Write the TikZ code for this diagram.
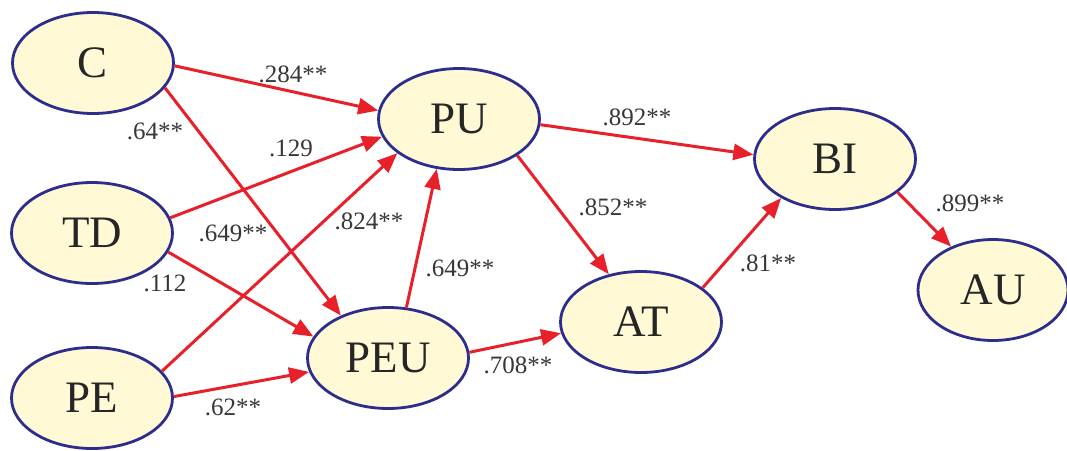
\documentclass[tikz,border=0pt]{standalone}
\usepackage{fontspec}
\setmainfont{Liberation Serif}
\usetikzlibrary{shapes.geometric,arrows.meta}
\definecolor{nodefill}{RGB}{255,249,214}
\definecolor{nodeline}{RGB}{45,45,140}
\definecolor{arrowred}{RGB}{232,32,42}
\definecolor{labelgray}{RGB}{55,55,55}
\tikzset{
  latent/.style={ellipse, draw=nodeline, fill=nodefill, line width=2.8pt,
    minimum width=161pt, minimum height=101pt, inner sep=0pt,
    font=\fontsize{45}{50}\selectfont, text=black!85},
  path/.style={draw=arrowred, line width=3pt,
    -{Triangle[length=20pt,width=16pt]}},
  coef/.style={font=\fontsize{25}{27}\selectfont, text=labelgray, inner sep=0pt}
}
\begin{document}
\begin{tikzpicture}[x=1pt,y=-1pt]
\useasboundingbox (0,0) rectangle (1067,450);
% nodes
\node[latent] (C)   at (93,63)   {C};
\node[latent] (TD)  at (92,233)  {TD};
\node[latent] (PE)  at (92,398)  {PE};
\node[latent] (PU)  at (459,119) {PU};
\node[latent] (PEU) at (388,358) {PEU};
\node[latent] (AT)  at (641,322) {AT};
\node[latent] (BI)  at (835,159) {BI};
\node[latent, minimum width=150pt] (AU)  at (993,290) {AU};
% paths
\draw[path] (C.-2)    -- (PU.174);
\draw[path] (C.-19)   -- (PEU.138);
\draw[path] (TD.11)   -- (PU.193);
\draw[path] (TD.-14)  -- (PEU.164);
\draw[path] (PE.21)   -- (PU.209);
\draw[path] (PE.1)    -- (PEU.190);
\draw[path] (PEU.70)  -- (PU.246);
\draw[path] (PEU.4)   -- (AT.188);
\draw[path] (PU.-4)   -- (BI.177);
\draw[path] (PU.-32)  -- (AT.124);
\draw[path] (AT.29)   -- (BI.216);
\draw[path] (BI.-28)  -- (AU.134);
% coefficients
\node[coef] (l1)  at (293,74)  {.284**};
\node[coef] (l2)  at (155,131) {.64**};
\node[coef] (l3)  at (291,148) {.129};
\node[coef] (l4)  at (233,233) {.649**};
\node[coef] (l5)  at (165,283) {.112};
\node[coef] (l6)  at (233,407) {.62**};
\node[coef] (l7)  at (369,221) {.824**};
\node[coef] (l8)  at (460,268) {.649**};
\node[coef] (l9)  at (518,365) {.708**};
\node[coef] (l10) at (637,117) {.892**};
\node[coef] (l11) at (613,207) {.852**};
\node[coef] (l12) at (768,263) {.81**};
\node[coef] (l13) at (970,203) {.899**};
\end{tikzpicture}
\end{document}
